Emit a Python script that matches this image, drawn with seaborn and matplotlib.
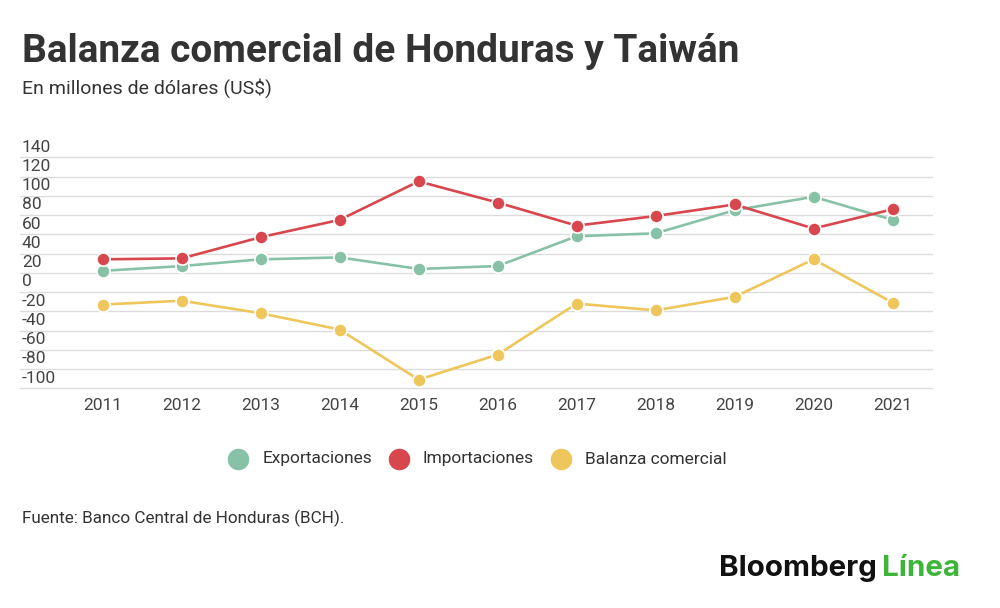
import numpy as np
import pandas as pd
import matplotlib.pyplot as plt
import matplotlib.transforms as mtransforms
from matplotlib.lines import Line2D
import seaborn as sns

# data (millones de US$)
years = [2011, 2012, 2013, 2014, 2015, 2016, 2017, 2018, 2019, 2020, 2021]
exportaciones = [22, 27, 34, 36, 24, 27, 58, 61, 85, 99, 75]
importaciones = [34, 35, 57, 75, 115, 93, 69, 79, 91, 66, 86]
balanza = [-13, -9, -22, -39, -91, -65, -12, -19, -5, 34, -11]
series_names = ["Exportaciones", "Importaciones", "Balanza comercial"]
colors = ["#88c2a6", "#d8474d", "#efc65c"]
y_ticks = [140, 120, 100, 80, 60, 40, 20, 0, -20, -40, -60, -80, -100]

df = pd.DataFrame({
    "Year": years * 3,
    "Valor": exportaciones + importaciones + balanza,
    "Serie": [series_names[0]] * 11 + [series_names[1]] * 11 + [series_names[2]] * 11,
})

sns.set_theme(style="white")
plt.rcParams["font.family"] = ["Roboto", "DejaVu Sans"]

fig = plt.figure(figsize=(10, 6.08), dpi=100)
ax = fig.add_axes([0.02, 1 - 388.3 / 608, 0.912, 231 / 608])

sns.lineplot(data=df, x="Year", y="Valor", hue="Serie", palette=colors,
             marker="o", markersize=9.5, markeredgecolor="white", markeredgewidth=1.2,
             linewidth=1.9, ax=ax, legend=False, clip_on=False, zorder=3)

ax.set_xlim(2011 - 1.047, 2021 + 0.499)
ax.set_ylim(-100, 140)
ax.set_yticks(y_ticks)
ax.set_yticklabels([])
ax.tick_params(axis="y", length=0)
ax.grid(axis="y", color="#dcdcdc", linewidth=1)
ax.grid(axis="x", visible=False)
for gl in ax.get_ygridlines():
    gl.set_clip_on(False)
for s in ax.spines.values():
    s.set_visible(False)
ax.set_xticks(years)
ax.set_xticklabels([str(y) for y in years], fontsize=12.5, color="#444444")
ax.tick_params(axis="x", length=0, pad=7)
ax.set_xlabel("")
ax.set_ylabel("")

# y labels sit above their gridlines
trans = mtransforms.blended_transform_factory(ax.transAxes, ax.transData)
off = mtransforms.offset_copy(trans, fig=fig, x=0, y=4.0, units="points")
for v in y_ticks:
    ax.text(2 / 912, v, str(v), transform=off, ha="left", va="baseline",
            fontsize=12.5, color="#444444")

fig.text(0.022, 1 - 52 / 608, "Balanza comercial de Honduras y Taiwán",
         fontsize=28, fontweight="bold", color="#333333", va="center")
fig.text(0.022, 1 - 88 / 608, "En millones de dólares (US$)",
         fontsize=14, color="#333333", va="center")

# legend below the chart
legend_dot_x = [238, 399, 561]
legend_text_x = [263, 423, 585]
ly = 1 - 459 / 608
for name, c, dx, tx in zip(series_names, colors, legend_dot_x, legend_text_x):
    fig.add_artist(Line2D([dx / 1000], [ly], transform=fig.transFigure, linestyle="none",
                          marker="o", markersize=14.5, markerfacecolor=c, markeredgecolor=c))
    fig.text(tx / 1000, ly, name, fontsize=12.5, color="#333333", va="center")

fig.text(0.022, 1 - 518 / 608, "Fuente: Banco Central de Honduras (BCH).",
         fontsize=12.3, color="#333333", va="center")

logo = fig.text(0.719, 1 - 568 / 608, "Bloomberg", fontsize=21.3, fontweight="bold",
                color="#111111", va="center", family=["Inter", "DejaVu Sans"])
fig.canvas.draw()
bb = logo.get_window_extent()
fig.text(bb.x1 / 1000 + 0.005, 1 - 568 / 608, "Línea", fontsize=21.3, fontweight="bold",
         color="#3db53a", va="center", family=["Inter", "DejaVu Sans"])

fig.savefig("out.png", dpi=100, facecolor="white")
